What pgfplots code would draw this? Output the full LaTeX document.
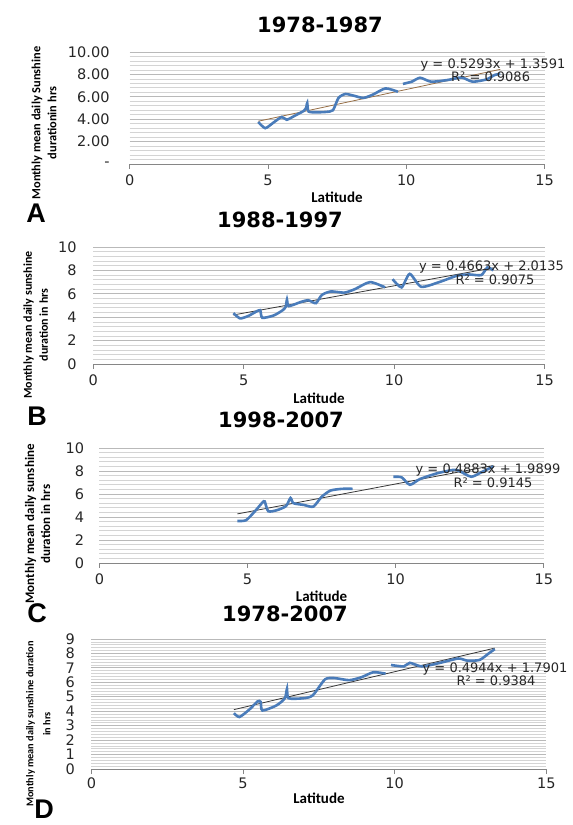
\documentclass[border=0pt]{standalone}
\usepackage{fontspec}
\setmainfont{DejaVu Sans}
\newfontfamily\calib{Carlito}
\newfontfamily\arialf{Liberation Sans}
\usepackage{pgfplots}
\pgfplotsset{compat=1.18}
\definecolor{curve}{RGB}{74,124,186}
\definecolor{trendA}{RGB}{150,110,70}
\definecolor{trendB}{RGB}{55,55,55}
\definecolor{majgrid}{RGB}{185,185,185}
\definecolor{mingrid}{RGB}{212,212,212}
\definecolor{axgray}{RGB}{134,134,134}
\pgfplotsset{panel/.style={
  scale only axis, anchor=south west,
  xmin=0, xmax=15, xtick={0,5,10,15},
  axis x line*=bottom, axis y line*=left,
  y axis line style={draw=none},
  x axis line style={draw=axgray, line width=0.9pt},
  tick align=outside, major tick length=5pt,
  xtick style={draw=axgray, line width=0.9pt},
  ytick style={draw=none},
  every minor tick/.append style={draw=none},
  ymajorgrids, yminorgrids, minor y tick num=4,
  major grid style={draw=majgrid, line width=0.9pt},
  minor grid style={draw=mingrid, line width=0.7pt},
  /pgf/number format/assume math mode=true,
  tick label style={font=\fontsize{14.5}{15}\selectfont, text=black!85, inner sep=0pt},
  yticklabel style={anchor=east},
  xticklabel style={anchor=north},
  clip=false,
}, datal/.style={curve, line width=2.6pt, smooth, tension=0.4, no markers},
   trl/.style={line width=0.8pt, no markers}}
\begin{document}
\begin{tikzpicture}[x=1pt,y=1pt]
\path[use as bounding box] (0,0) rectangle (573,825);

% ---------- A ----------
\begin{axis}[panel, at={(129.7pt,661pt)}, width=414.8pt, height=112pt,
  ymin=0, ymax=10, ytick={0,2,4,6,8,10},
  yticklabels={-,2.00,4.00,6.00,8.00,10.00},
  yticklabel style={xshift=-15pt}, xticklabel style={yshift=-5.5pt}]
\addplot[trl, trendA] coordinates {(4.65,3.82) (13.4,8.45)};
\addplot[datal] coordinates {(4.65,3.75) (4.90,3.20) (5.20,3.70) (5.50,4.20) (5.68,3.95) (6.00,4.35) (6.30,4.75) (6.38,5.00) (6.42,5.45) (6.47,4.68) (6.80,4.62) (7.10,4.65) (7.35,4.80) (7.55,5.90) (7.80,6.25) (8.10,6.10) (8.45,5.90) (8.80,6.20) (9.25,6.75) (9.70,6.45)};
\addplot[datal] coordinates {(9.88,7.15) (10.20,7.35) (10.50,7.70) (10.90,7.35) (11.50,7.50) (12.00,7.72) (12.40,7.35) (12.90,7.55) (13.20,7.95) (13.40,8.05)};
\end{axis}

% ---------- B ----------
\begin{axis}[panel, at={(93.2pt,461pt)}, width=451.3pt, height=117pt,
  ymin=0, ymax=10, ytick={0,2,...,10},
  yticklabel style={xshift=-11.5pt}, xticklabel style={yshift=-5.7pt}]
\addplot[trl, trendB] coordinates {(4.66,4.19) (13.3,8.22)};
\addplot[datal] coordinates {(4.66,4.35) (4.88,3.90) (5.15,4.10) (5.40,4.45) (5.55,4.60) (5.62,3.95) (6.00,4.15) (6.30,4.60) (6.40,4.90) (6.44,5.50) (6.50,4.95) (6.90,5.30) (7.15,5.45) (7.40,5.20) (7.60,5.90) (7.90,6.20) (8.35,6.10) (8.70,6.40) (9.20,7.00) (9.70,6.55)};
\addplot[datal] coordinates {(9.95,7.25) (10.25,6.55) (10.52,7.70) (10.90,6.60) (11.50,7.00) (12.10,7.55) (12.50,7.65) (12.90,7.60) (13.10,8.25) (13.30,8.00)};
\end{axis}

% ---------- C ----------
\begin{axis}[panel, at={(99.4pt,262pt)}, width=444.4pt, height=115pt,
  ymin=0, ymax=10, ytick={0,2,...,10},
  yticklabel style={xshift=-10pt}, xticklabel style={yshift=-5.7pt}]
\addplot[trl, trendB] coordinates {(4.66,4.27) (13.3,8.48)};
\addplot[datal] coordinates {(4.66,3.65) (4.95,3.72) (5.25,4.50) (5.50,5.25) (5.58,5.35) (5.70,4.50) (6.00,4.60) (6.30,4.95) (6.45,5.65) (6.55,5.20) (6.90,5.05) (7.22,4.90) (7.50,5.75) (7.80,6.30) (8.20,6.45) (8.55,6.45)};
\addplot[datal] coordinates {(9.92,7.50) (10.20,7.45) (10.48,6.80) (10.82,7.30) (11.40,7.80) (11.95,8.10) (12.15,8.00) (12.55,7.50) (12.90,7.90) (13.30,8.40)};
\end{axis}

% ---------- D ----------
\begin{axis}[panel, at={(91.4pt,56pt)}, width=454.9pt, height=130pt,
  ymin=0, ymax=9, ytick={0,1,...,9},
  yticklabel style={xshift=-11.4pt}, xticklabel style={yshift=-3.6pt}]
\addplot[trl, trendB] coordinates {(4.70,4.11) (13.3,8.37)};
\addplot[datal] coordinates {(4.70,3.87) (4.88,3.60) (5.20,4.10) (5.48,4.68) (5.58,4.65) (5.64,4.05) (6.10,4.40) (6.38,4.90) (6.45,5.55) (6.50,4.90) (7.00,4.90) (7.30,5.10) (7.70,6.20) (8.00,6.30) (8.50,6.15) (8.90,6.35) (9.30,6.70) (9.70,6.60)};
\addplot[datal] coordinates {(9.88,7.20) (10.30,7.10) (10.50,7.35) (10.90,7.10) (11.50,7.35) (12.10,7.65) (12.40,7.50) (12.80,7.55) (13.10,8.00) (13.30,8.30)};
\end{axis}

% titles
\begin{scope}[every node/.style={font=\fontsize{21}{22}\selectfont\bfseries, inner sep=0pt}]
\node at (320,800) {1978-1987};
\node at (280,605) {1988-1997};
\node at (281,405) {1998-2007};
\node at (285,211) {1978-2007};
\end{scope}
% x labels
\begin{scope}[every node/.style={font=\calib\fontsize{15}{16}\selectfont\bfseries, inner sep=0pt}]
\node at (337,628) {Latitude};
\node at (319,427) {Latitude};
\node at (321.6,229) {Latitude};
\node at (319,27) {Latitude};
\end{scope}
% y labels
\node[rotate=90, align=center, inner sep=0pt, font=\calib\fontsize{12.4}{16}\selectfont\bfseries] at (44,702) {Monthly mean daily Sunshine\\durationin hrs};
\node[rotate=90, align=center, inner sep=0pt, font=\calib\fontsize{12}{16}\selectfont\bfseries] at (35.6,500) {Monthly mean daily sunshine\\duration in hrs};
\node[rotate=90, align=center, inner sep=0pt, font=\calib\fontsize{13}{16}\selectfont\bfseries] at (37.5,301) {Monthly mean daily sunshine\\duration in hrs};
\node[rotate=90, align=center, inner sep=0pt, font=\calib\fontsize{10.3}{17}\selectfont\bfseries] at (38.4,101) {Monthly mean daily sunshine duration\\in hrs};
% panel letters
\begin{scope}[every node/.style={font=\arialf\fontsize{27}{28}\selectfont\bfseries, inner sep=0pt}]
\node at (36,612) {A};
\node at (37,409) {B};
\node at (37,212) {C};
\node at (44,16) {D};
\end{scope}
% equations
\begin{scope}[every node/.style={font=\fontsize{13}{14}\selectfont, text=black!85, inner sep=0pt}]
\node at (493,760) {y = 0.5293x + 1.3591};
\node at (490.6,748) {R² = 0.9086};
\node at (491.5,557.5) {y = 0.4663x + 2.0135};
\node at (495,545) {R² = 0.9075};
\node at (488,354.5) {y = 0.4883x + 1.9899};
\node at (493,342) {R² = 0.9145};
\node at (495,156) {y = 0.4944x + 1.7901};
\node at (496,144) {R² = 0.9384};
\end{scope}
\end{tikzpicture}
\end{document}
